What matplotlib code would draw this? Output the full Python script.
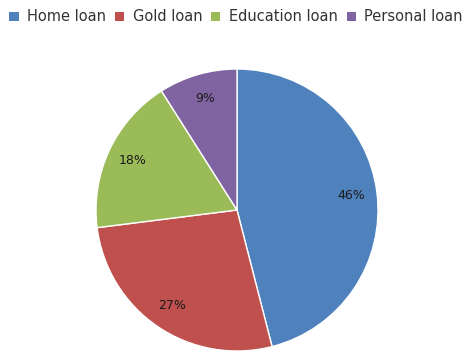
import matplotlib
matplotlib.use("Agg")
import matplotlib.pyplot as plt
from matplotlib.patches import Patch

# data
labels = ["Home loan", "Gold loan", "Education loan", "Personal loan"]
shares = [46, 27, 18, 9]
colors = ["#4F81BD", "#C0504D", "#9BBB59", "#8064A2"]

plt.rcParams["font.family"] = ["DejaVu Sans"]

fig = plt.figure(figsize=(4.64, 3.51), dpi=100)
W, H = 464, 351
cx, cy, r = 237, 210, 141
ax = fig.add_axes([(cx - r) / W, 1 - (cy + r) / H, 2 * r / W, 2 * r / H])

wedges, texts = ax.pie(shares, colors=colors, startangle=90, counterclock=False,
                       labels=[f"{s}%" for s in shares], labeldistance=0.82,
                       wedgeprops=dict(edgecolor="white", linewidth=1.0),
                       textprops=dict(fontsize=9, color="#1a1a1a"))
for t in texts:
    t.set_ha("center")
    t.set_va("center")
ax.set_xlim(-1, 1)
ax.set_ylim(-1, 1)
ax.set_aspect("equal")
ax.axis("off")

handles = [Patch(facecolor=c, edgecolor="none") for c in colors]
fig.legend(handles, labels, loc="upper left", bbox_to_anchor=(0.0, 1.0), ncol=4,
           frameon=False, fontsize=10.5, handlelength=0.62, handleheight=0.62,
           handletextpad=0.6, columnspacing=0.6, borderaxespad=0.25,
           labelcolor="#333333")

fig.savefig("out.png", dpi=100)
